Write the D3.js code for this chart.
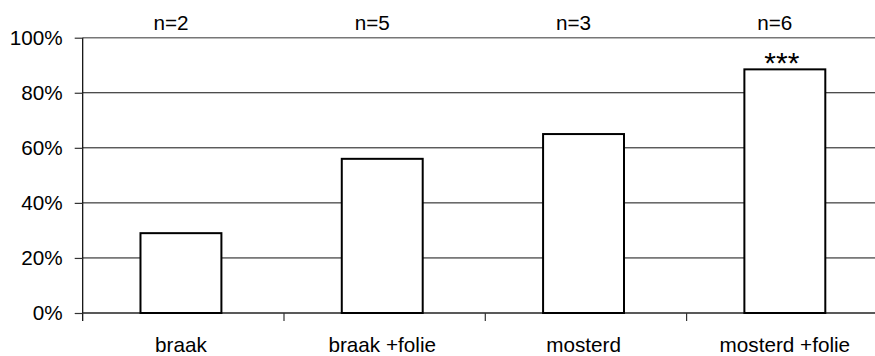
<!DOCTYPE html>
<html>
<head>
<meta charset="utf-8">
<script src="https://cdn.jsdelivr.net/npm/d3@7"></script>
<style>
  html, body { margin: 0; padding: 0; background: #fff; }
  svg { display: block; font-family: "Liberation Sans", Arial, sans-serif; }
</style>
</head>
<body>
<svg id="chart" width="875" height="356"></svg>
<script>
// Share per treatment (%), with sample sizes and significance marks
const categories = ["braak", "braak +folie", "mosterd", "mosterd +folie"];
const values = [29, 56, 65, 88.5];
const sampleSizes = ["n=2", "n=5", "n=3", "n=6"];
const significance = ["", "", "", "***"];
const yTicks = [0, 20, 40, 60, 80, 100];

const svg = d3.select("#chart");
const plotLeft = 82.7, step = 201.3;
const plotTop = 37.7, plotBottom = 313;
const fontSize = 20.7;

const x = d3.scaleBand()
  .domain(categories)
  .range([plotLeft, plotLeft + step * categories.length])
  .paddingInner(0.598)
  .paddingOuter(0.299)
  .align(0.48);

const y = d3.scaleLinear().domain([0, 100]).range([plotBottom, plotTop]);

// horizontal gridlines
svg.append("g")
  .selectAll("line")
  .data(yTicks.filter(d => d > 0))
  .join("line")
  .attr("x1", plotLeft).attr("x2", 875)
  .attr("y1", d => y(d)).attr("y2", d => y(d))
  .attr("stroke", d => d === 100 ? "#777" : "#111")
  .attr("stroke-width", d => d === 100 ? 1.6 : 1);

// y axis
const yAxis = svg.append("g")
  .attr("transform", `translate(${plotLeft},0)`)
  .call(d3.axisLeft(y).tickValues(yTicks).tickFormat(d => d + "%").tickSize(8).tickPadding(12));
yAxis.select(".domain").attr("stroke", "#000").attr("stroke-width", 1.2)
  .attr("d", `M0,${plotTop}V${plotBottom + 8}`);
yAxis.selectAll(".tick line").attr("stroke", "#333").attr("stroke-width", 1.2);
yAxis.selectAll("text").attr("font-size", fontSize).attr("fill", "#000")
  .attr("font-family", "Liberation Sans, Arial, sans-serif");

// category baseline and boundary ticks
const bounds = d3.range(categories.length + 1).map(i => plotLeft + i * step);
svg.append("line")
  .attr("x1", plotLeft).attr("x2", 875)
  .attr("y1", y(0)).attr("y2", y(0))
  .attr("stroke", "#222").attr("stroke-width", 1.6);
svg.append("g").selectAll("line").data(bounds.slice(1))
  .join("line")
  .attr("x1", d => d).attr("x2", d => d)
  .attr("y1", y(0)).attr("y2", y(0) + 8)
  .attr("stroke", "#333").attr("stroke-width", 1.2);

// bars
svg.append("g").selectAll("rect")
  .data(categories)
  .join("rect")
  .attr("x", d => x(d))
  .attr("width", x.bandwidth())
  .attr("y", (d, i) => y(values[i]))
  .attr("height", (d, i) => y(0) - y(values[i]))
  .attr("fill", "#fff")
  .attr("stroke", "#000")
  .attr("stroke-width", 2);

// category labels
svg.append("g").selectAll("text")
  .data(categories)
  .join("text")
  .attr("x", d => x(d) + x.bandwidth() / 2)
  .attr("y", 352)
  .attr("text-anchor", "middle")
  .attr("font-size", fontSize)
  .text(d => d);

// sample size labels
svg.append("g").selectAll("text")
  .data(categories)
  .join("text")
  .attr("x", d => x(d) + x.bandwidth() / 2 - 10)
  .attr("y", 30)
  .attr("text-anchor", "middle")
  .attr("font-size", fontSize)
  .text((d, i) => sampleSizes[i]);

// significance marks
svg.append("g").selectAll("text")
  .data(categories)
  .join("text")
  .attr("x", d => x(d) + x.bandwidth() / 2 - 3)
  .attr("y", (d, i) => y(values[i]) + 4)
  .attr("text-anchor", "middle")
  .attr("font-size", 30)
  .text((d, i) => significance[i]);
</script>
</body>
</html>
